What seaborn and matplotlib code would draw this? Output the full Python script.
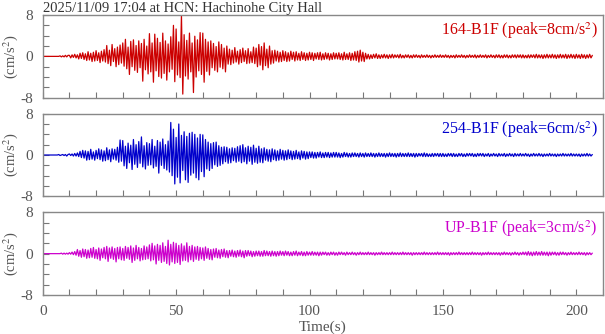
import numpy as np
import pandas as pd
import matplotlib
matplotlib.use("Agg")
import matplotlib.pyplot as plt
import seaborn as sns
from matplotlib.ticker import MultipleLocator

# acceleration samples (cm/s^2), one every 0.5 s
dt = 0.5

ns_164 = [
    0, 0, 0, 0, 0, 0, 0, 0, 0, 0, 0, 0, 0, 0.1, -0.1, 0.1, -0.1, 0.2, -0.1, 0.2,
    0.2, -0.3, 0.3, -0.2, 0.4, -0.3, 0.3, -0.5, 0.6, -0.4, 0.7, -0.6, 0.5, -0.8, 0.9, -0.7, 0.6, -1.0, 0.8, -0.9,
    1.1, -0.8, 0.7, -1.2, 1.0, -0.9, 1.3, -1.1, 2.1, -1.4, 1.2, -1.8, 2.3, -1.0, 1.5, -2.0, 1.8, -1.6, 2.2, -1.3,
    2.6, -1.9, 3.3, -2.4, 1.8, -3.5, 2.9, -2.0, 3.2, -2.7, 2.1, -3.1, 3.0, -2.2, 2.5, -4.8, 3.3, -2.6, 2.0, -3.4,
    4.4, -3.0, 2.6, -5.0, 4.3, -2.8, 3.5, -3.9, 2.7, -4.2, 4.5, -3.3, 3.0, -4.6, 2.4, -3.0, 3.8, -2.5, 6.0, -4.9,
    5.3, -3.6, 2.8, -4.1, 8.0, -7.3, 4.2, -3.8, 3.1, -4.4, 4.5, -3.0, 2.6, -7.0, 3.9, -4.0, 3.2, -2.8, 4.6, -3.5,
    4.5, -5.0, 3.3, -2.9, 2.8, -3.6, 3.0, -2.2, 2.5, -2.7, 1.9, -3.0, 2.8, -2.1, 2.3, -2.4, 1.6, -3.0, 2.0, -1.5,
    1.4, -1.6, 1.2, -1.3, 1.7, -1.1, 1.0, -1.5, 1.3, -1.2, 1.6, -1.0, 1.1, -1.4, 1.5, -1.3, 0.9, -1.2, 1.8, -1.4,
    1.6, -2.0, 2.3, -1.7, 1.9, -2.6, 2.6, -1.8, 1.4, -2.2, 2.0, -1.5, 1.1, -1.3, 1.2, -0.9, 1.0, -1.1, 0.8, -1.0,
    1.1, -0.8, 0.9, -1.0, 0.7, -0.9, 1.0, -0.6, 0.8, -0.9, 0.9, -0.7, 0.6, -0.8, 0.9, -0.6, 0.7, -0.8, 0.6, -0.7,
    0.8, -0.6, 0.7, -0.8, 0.6, -0.5, 0.7, -0.6, 0.8, -0.7, 0.5, -0.6, 0.7, -0.5, 0.6, -0.7, 0.5, -0.6, 0.7, -0.5,
    0.6, -0.5, 0.7, -0.6, 0.5, -0.7, 0.8, -0.6, 0.5, -0.6, 0.7, -0.8, 0.6, -0.7, 0.9, -0.8, 1.0, -1.1, 1.2, -0.9,
    0.8, -1.0, 0.6, -0.5, 0.4, -0.5, 0.3, -0.4, 0.4, -0.3, 0.5, -0.4, 0.3, -0.4, 0.3, -0.3, 0.4, -0.3, 0.3, -0.4,
    0.3, -0.3, 0.4, -0.3, 0.3, -0.2, 0.3, -0.3, 0.4, -0.3, 0.2, -0.3, 0.3, -0.2, 0.3, -0.3, 0.2, -0.3, 0.3, -0.2,
    0.3, -0.2, 0.2, -0.3, 0.3, -0.2, 0.2, -0.2, 0.3, -0.2, 0.2, -0.3, 0.2, -0.2, 0.3, -0.2, 0.2, -0.2, 0.3, -0.2,
    0.2, -0.2, 0.3, -0.2, 0.2, -0.3, 0.2, -0.2, 0.2, -0.3, 0.3, -0.2, 0.2, -0.2, 0.3, -0.2, 0.2, -0.3, 0.2, -0.2,
    0.3, -0.2, 0.2, -0.2, 0.3, -0.3, 0.2, -0.2, 0.3, -0.2, 0.2, -0.2, 0.3, -0.3, 0.2, -0.2, 0.3, -0.2, 0.2, -0.3,
    0.3, -0.2, 0.3, -0.3, 0.2, -0.3, 0.3, -0.2, 0.3, -0.3, 0.2, -0.3, 0.3, -0.2, 0.3, -0.3, 0.3, -0.2, 0.3, -0.3,
    0.3, -0.3, 0.2, -0.3, 0.3, -0.3, 0.3, -0.2, 0.3, -0.3, 0.4, -0.3, 0.3, -0.3, 0.3, -0.4, 0.3, -0.3, 0.4, -0.3,
    0.3, -0.3, 0.4, -0.3, 0.3, -0.4, 0.3, -0.3, 0.4, -0.3, 0.3, -0.3, 0.4, -0.4, 0.3, -0.3, 0.4, -0.3, 0.3, -0.4,
    0.4, -0.3, 0.3, -0.4, 0.4, -0.3, 0.3, -0.4, 0.3, -0.3, 0.4, -0.3, 0.2,
]

ew_254 = [
    0, 0, 0, 0, 0, 0, 0, 0, 0, 0, 0, 0, 0.1, -0.1, 0, 0.1, -0.1, 0.1, -0.2, 0.1,
    0.2, -0.1, 0.2, -0.2, 0.3, -0.2, 0.4, -0.3, 0.7, -0.5, 0.9, -0.6, 0.8, -1.0, 0.7, -0.9, 1.1, -0.8, 0.6, -1.0,
    0.9, -0.7, 1.2, -0.9, 1.0, -1.2, 0.8, -1.1, 1.4, -0.9, 1.0, -1.3, 1.2, -0.8, 1.1, -1.0, 1.5, -1.4, 2.9, -1.2,
    2.8, -2.1, 1.7, -2.6, 2.3, -1.5, 1.9, -2.8, 3.0, -1.8, 2.0, -2.4, 2.6, -1.6, 3.5, -2.3, 1.8, -2.7, 2.4, -2.0,
    2.2, -1.9, 3.0, -2.5, 1.7, -2.2, 2.8, -3.5, 2.5, -2.0, 3.1, -2.6, 2.0, -2.9, 2.7, -3.3, 6.3, -4.0, 5.0, -5.6,
    3.4, -4.3, 6.0, -5.4, 3.8, -3.0, 4.5, -4.8, 3.6, -5.3, 4.2, -3.9, 4.4, -3.5, 4.0, -4.4, 3.3, -4.8, 4.0, -3.2,
    3.9, -4.2, 3.0, -2.7, 2.5, -3.0, 2.2, -2.6, 2.4, -1.9, 2.5, -2.2, 1.8, -2.0, 1.5, -1.7, 1.6, -1.3, 1.5, -1.6,
    1.2, -1.5, 1.4, -1.1, 1.3, -1.4, 1.6, -1.2, 1.8, -1.5, 2.0, -1.3, 1.4, -1.7, 1.7, -1.2, 1.5, -1.8, 1.9, -1.4,
    1.3, -1.6, 1.7, -1.4, 1.2, -1.5, 1.4, -1.0, 1.1, -1.2, 1.0, -1.3, 1.2, -0.9, 1.0, -1.1, 0.8, -1.0, 1.1, -0.8,
    0.9, -1.0, 0.8, -0.9, 1.0, -0.7, 0.8, -0.9, 0.7, -0.8, 0.9, -0.7, 0.6, -0.9, 0.8, -0.6, 0.7, -0.8, 0.6, -0.7,
    0.6, -0.5, 0.6, -0.6, 0.5, -0.6, 0.5, -0.4, 0.6, -0.5, 0.4, -0.5, 0.5, -0.4, 0.5, -0.5, 0.4, -0.4, 0.5, -0.4,
    0.5, -0.4, 0.4, -0.5, 0.3, -0.4, 0.5, -0.3, 0.4, -0.4, 0.3, -0.4, 0.4, -0.3, 0.4, -0.3, 0.3, -0.4, 0.4, -0.3,
    0.3, -0.4, 0.4, -0.3, 0.3, -0.3, 0.4, -0.3, 0.3, -0.4, 0.3, -0.3, 0.4, -0.3, 0.3, -0.3, 0.3, -0.4, 0.3, -0.3,
    0.4, -0.3, 0.3, -0.3, 0.3, -0.4, 0.3, -0.3, 0.4, -0.3, 0.3, -0.3, 0.3, -0.3, 0.4, -0.3, 0.3, -0.3, 0.3, -0.4,
    0.3, -0.3, 0.3, -0.2, 0.3, -0.3, 0.4, -0.3, 0.3, -0.3, 0.2, -0.3, 0.3, -0.3, 0.3, -0.2, 0.3, -0.3, 0.3, -0.3,
    0.3, -0.3, 0.2, -0.3, 0.3, -0.2, 0.3, -0.3, 0.3, -0.3, 0.2, -0.3, 0.3, -0.2, 0.3, -0.3, 0.2, -0.3, 0.3, -0.2,
    0.3, -0.2, 0.3, -0.3, 0.2, -0.3, 0.3, -0.2, 0.3, -0.2, 0.3, -0.3, 0.2, -0.2, 0.3, -0.3, 0.2, -0.2, 0.3, -0.2,
    0.2, -0.3, 0.3, -0.2, 0.2, -0.2, 0.3, -0.3, 0.2, -0.2, 0.3, -0.2, 0.2, -0.3, 0.3, -0.2, 0.2, -0.2, 0.3, -0.2,
    0.2, -0.2, 0.3, -0.2, 0.2, -0.3, 0.2, -0.2, 0.3, -0.2, 0.2, -0.2, 0.3, -0.2, 0.2, -0.3, 0.2, -0.2, 0.2, -0.2,
    0.3, -0.2, 0.2, -0.2, 0.2, -0.3, 0.2, -0.2, 0.2, -0.2, 0.3, -0.2, 0.2, -0.2, 0.2, -0.2, 0.3, -0.2, 0.2, -0.2,
    0.2, -0.2, 0.2, -0.3, 0.2, -0.2, 0.2, -0.2, 0.3, -0.2, 0.2, -0.2, 0.1,
]

up = [
    0, 0, 0, 0, 0, 0, 0, 0, 0, 0, 0, 0, 0, 0, 0.1, -0.1, 0.1, -0.1, 0.1, -0.1,
    0.2, -0.1, 0.3, -0.2, 0.4, -0.3, 0.8, -0.5, 0.6, -0.7, 0.9, -0.6, 0.8, -0.9, 0.7, -0.8, 1.0, -0.7, 1.2, -0.9,
    0.8, -1.0, 1.1, -1.3, 0.9, -0.8, 1.2, -1.0, 1.4, -1.5, 1.1, -0.9, 1.3, -1.1, 1.0, -1.6, 1.2, -1.0, 1.3, -1.2,
    1.0, -1.3, 1.4, -0.9, 1.2, -1.1, 1.5, -1.7, 1.1, -1.3, 1.6, -1.0, 1.2, -1.4, 1.0, -1.2, 1.5, -1.1, 1.3, -1.0,
    1.7, -1.4, 2.0, -1.2, 1.5, -2.0, 1.8, -1.3, 1.6, -1.7, 2.1, -1.5, 1.4, -1.9, 2.6, -2.2, 1.8, -1.6, 2.2, -1.9,
    2.0, -1.7, 1.6, -2.1, 1.9, -1.4, 1.5, -1.3, 2.1, -1.6, 1.4, -1.2, 1.6, -1.5, 1.3, -1.1, 1.4, -1.3, 1.2, -1.0,
    1.1, -1.3, 1.3, -0.9, 1.0, -1.1, 0.8, -1.2, 0.9, -0.7, 1.0, -0.8, 0.7, -0.9, 0.8, -0.6, 0.9, -0.7, 0.6, -0.8,
    0.6, -0.5, 0.7, -0.6, 0.5, -0.7, 0.6, -0.5, 0.7, -0.6, 0.5, -0.8, 0.6, -0.5, 0.6, -0.4, 0.5, -0.6, 0.4, -0.5,
    0.5, -0.4, 0.5, -0.5, 0.4, -0.5, 0.6, -0.4, 0.5, -0.4, 0.4, -0.5, 0.5, -0.4, 0.4, -0.5, 0.4, -0.4, 0.5, -0.3,
    0.4, -0.4, 0.5, -0.3, 0.4, -0.4, 0.3, -0.4, 0.4, -0.3, 0.5, -0.4, 0.3, -0.3, 0.4, -0.4, 0.3, -0.4, 0.4, -0.3,
    0.3, -0.3, 0.4, -0.3, 0.3, -0.3, 0.3, -0.4, 0.3, -0.3, 0.3, -0.2, 0.3, -0.3, 0.2, -0.3, 0.3, -0.2, 0.3, -0.3,
    0.2, -0.3, 0.3, -0.2, 0.3, -0.2, 0.2, -0.3, 0.3, -0.2, 0.2, -0.2, 0.3, -0.2, 0.2, -0.3, 0.2, -0.2, 0.3, -0.2,
    0.2, -0.2, 0.2, -0.2, 0.3, -0.2, 0.2, -0.2, 0.2, -0.3, 0.2, -0.2, 0.2, -0.2, 0.3, -0.2, 0.2, -0.2, 0.2, -0.2,
    0.2, -0.2, 0.3, -0.2, 0.2, -0.2, 0.2, -0.2, 0.2, -0.2, 0.3, -0.2, 0.2, -0.2, 0.2, -0.2, 0.2, -0.3, 0.2, -0.2,
    0.2, -0.2, 0.2, -0.2, 0.2, -0.2, 0.3, -0.2, 0.2, -0.2, 0.2, -0.2, 0.2, -0.2, 0.2, -0.2, 0.3, -0.2, 0.2, -0.2,
    0.2, -0.2, 0.2, -0.2, 0.2, -0.3, 0.2, -0.2, 0.2, -0.2, 0.2, -0.2, 0.3, -0.2, 0.2, -0.2, 0.2, -0.2, 0.2, -0.2,
    0.2, -0.2, 0.3, -0.2, 0.2, -0.2, 0.2, -0.2, 0.2, -0.3, 0.2, -0.2, 0.2, -0.2, 0.3, -0.2, 0.2, -0.2, 0.2, -0.2,
    0.2, -0.2, 0.2, -0.3, 0.2, -0.2, 0.3, -0.2, 0.2, -0.2, 0.2, -0.3, 0.2, -0.2, 0.3, -0.2, 0.2, -0.3, 0.2, -0.2,
    0.3, -0.2, 0.3, -0.3, 0.4, -0.3, 0.3, -0.4, 0.3, -0.3, 0.4, -0.3, 0.3, -0.3, 0.4, -0.3, 0.3, -0.3, 0.3, -0.4,
    0.3, -0.3, 0.3, -0.2, 0.3, -0.3, 0.2, -0.3, 0.3, -0.2, 0.3, -0.2, 0.2, -0.3, 0.2, -0.2, 0.3, -0.2, 0.2, -0.2,
    0.2, -0.2, 0.3, -0.2, 0.2, -0.2, 0.2, -0.3, 0.2, -0.2, 0.2, -0.2, 0.1,
]

traces = [ns_164, ew_254, up]
names = ["164-B1F (peak=8cm/s$^2$)", "254-B1F (peak=6cm/s$^2$)", "UP-B1F (peak=3cm/s$^2$)"]
colors = ["#cc0000", "#0000cc", "#cc00cc"]
title = "2025/11/09 17:04 at HCN: Hachinohe City Hall"

sns.set_theme(style="ticks")
plt.rcParams["font.family"] = ["Liberation Serif", "DejaVu Serif"]
plt.rcParams["mathtext.fontset"] = "stix"

fig, axes = plt.subplots(3, 1, figsize=(6.05, 3.34), dpi=100, sharex=True)
fig.subplots_adjust(left=0.0706, right=0.9967, top=0.955, bottom=0.1168, hspace=0.193)

for ax, vals, name, col in zip(axes, traces, names, colors):
    df = pd.DataFrame({"t": np.arange(len(vals)) * dt, "acc": vals})
    sns.lineplot(data=df, x="t", y="acc", ax=ax, color=col, linewidth=0.9)
    ax.set_xlim(0, 210)
    ax.set_ylim(-8, 8)
    ax.set_yticks([-8, 0, 8])
    ax.set_yticklabels(["-8", "0", "8"])
    ax.yaxis.set_minor_locator(MultipleLocator(2))
    ax.xaxis.set_major_locator(MultipleLocator(50))
    ax.xaxis.set_minor_locator(MultipleLocator(10))
    ax.tick_params(which="both", direction="in", length=4, width=0.8, color="#777777",
                   labelsize=11, labelcolor="#555555", pad=7)
    for s in ax.spines.values():
        s.set_color("#888888")
        s.set_linewidth(1.0)
    ax.set_ylabel("(cm/s$^2$)", fontsize=10.5, color="#555555", va="center")
    ax.yaxis.set_label_coords(-0.058, 0.5)
    ax.set_xlabel("")
    ax.text(0.99, 0.93, name, transform=ax.transAxes, ha="right", va="top",
            fontsize=11.5, color=col)

axes[-1].set_xlabel("Time(s)", fontsize=11, color="#555555", labelpad=2)
axes[0].set_title(title, loc="left", fontsize=10.5, color="#333333", pad=1)

plt.savefig("out.png", dpi=100)
